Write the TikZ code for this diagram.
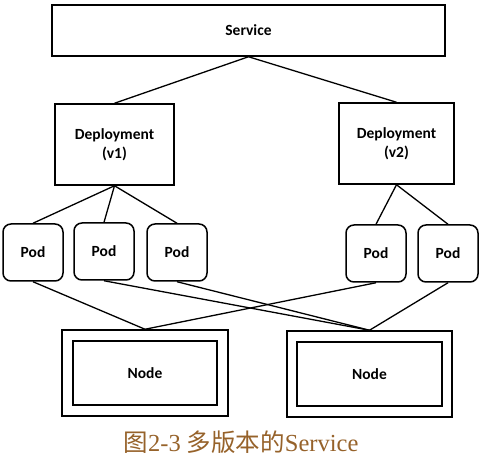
\documentclass[tikz,border=0pt]{standalone}
\usepackage{fontspec}
\setmainfont{Liberation Serif}
\setsansfont{Carlito}
\newfontfamily\cjk{Noto Sans CJK SC}
\definecolor{captionbrown}{RGB}{150,98,42}
\begin{document}
\begin{tikzpicture}[x=1pt, y=-1pt,
    box/.style={draw=black, line width=1.5pt, inner sep=0pt, font=\sffamily\bfseries\fontsize{15.5}{19}\selectfont, align=center},
    podbox/.style={box, rounded corners=8pt, minimum width=60pt, minimum height=57pt},
    hostbox/.style={draw=black, line width=1.5pt, inner sep=0pt},
    link/.style={black, line width=1.3pt}]
    \useasboundingbox (0,0) rectangle (483,462);

    % 1. Service ở trên cùng và hai Deployment
    \node[box, minimum width=393pt, minimum height=51pt] (svc) at (248.5,30.5) {Service};
    \node[box, minimum width=119pt, minimum height=81pt] (dep1) at (114.5,144.5) {Deployment\\(v1)};
    \node[box, minimum width=115pt, minimum height=81pt] (dep2) at (396.5,143.5) {Deployment\\(v2)};
    \draw[link] (svc.south) -- (dep1.north);
    \draw[link] (svc.south) -- (dep2.north);

    % 2. Các Pod
    \node[podbox] (pod1) at (33,252.5) {Pod};
    \node[podbox] (pod2) at (104,251.5) {Pod};
    \node[podbox] (pod3) at (177,252.5) {Pod};
    \node[podbox] (pod4) at (376,253.5) {Pod};
    \node[podbox] (pod5) at (448,253.5) {Pod};
    \foreach \p in {pod1, pod2, pod3} \draw[link] (dep1.south) -- (\p.north);
    \foreach \p in {pod4, pod5} \draw[link] (dep2.south) -- (\p.north);

    % 3. Hai Node (khung kép)
    \node[hostbox, minimum width=166pt, minimum height=86pt] (host1) at (145,373) {};
    \node[box, minimum width=144pt, minimum height=64pt] (inner1) at (host1.center) {Node};
    \node[hostbox, minimum width=165pt, minimum height=86pt] (host2) at (369.5,374) {};
    \node[box, minimum width=145pt, minimum height=64pt] (inner2) at (host2.center) {Node};

    % Pod nối tới Node
    \draw[link] (pod1.south) -- (host1.north);
    \draw[link] (pod4.south) -- (host1.north);
    \foreach \p in {pod2, pod3, pod5} \draw[link] (\p.south) -- (host2.north);

    % 4. Chú thích
    \node[text=captionbrown, font=\fontsize{24.5}{28}\selectfont] (caption) at (241,442) {{\cjk 图}2-3 {\cjk 多版本的}Service};
\end{tikzpicture}
\end{document}
